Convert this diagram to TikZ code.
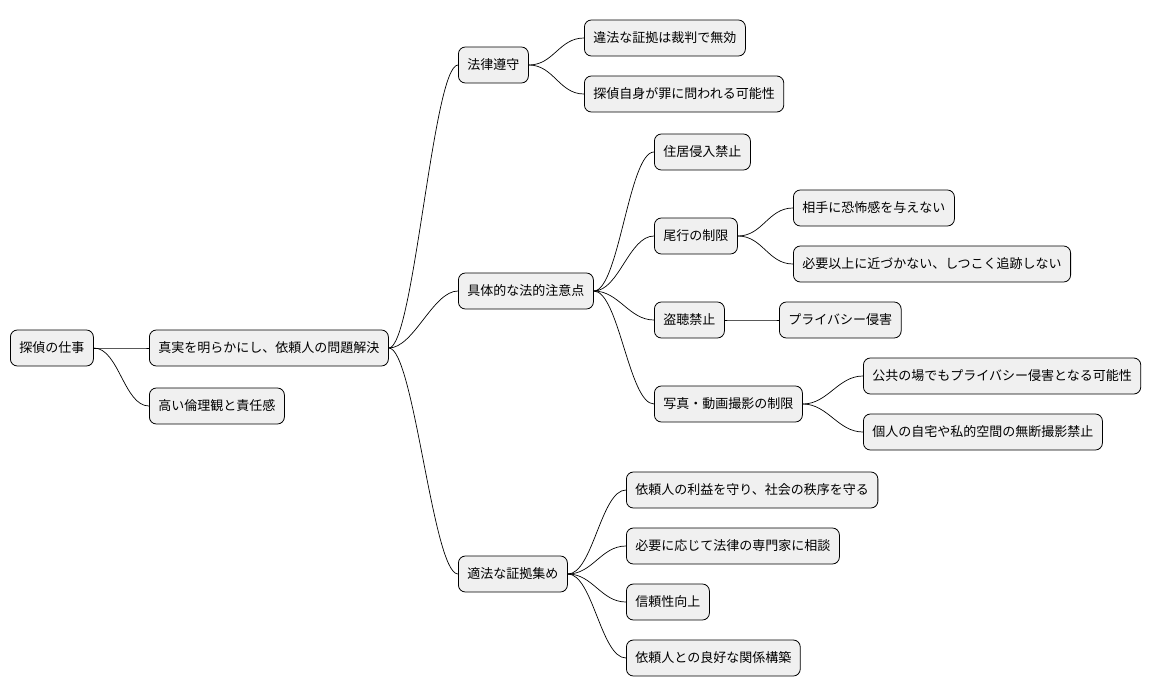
\documentclass[tikz,border=0pt]{standalone}
\usepackage{fontspec}
\setmainfont{Noto Sans CJK JP}
\begin{document}
\begin{tikzpicture}[x=1pt,y=-1pt,
  box/.style={draw=black,line width=0.8pt,fill=black!6,rounded corners=7pt,minimum height=36pt,inner xsep=9pt,anchor=west,font=\fontsize{13}{15}\selectfont},
  link/.style={draw=black,line width=0.7pt}]
\useasboundingbox (0,0) rectangle (1174,696);
\node[box] (r) at (10,348) {探偵の仕事};
\node[box] (a) at (149,348) {真実を明らかにし、依頼人の問題解決};
\node[box] (b) at (149,406) {高い倫理観と責任感};
\node[box] (a1) at (458,65) {法律遵守};
\node[box] (a11) at (584,38) {違法な証拠は裁判で無効};
\node[box] (a12) at (584,94) {探偵自身が罪に問われる可能性};
\node[box] (a2) at (458,291) {具体的な法的注意点};
\node[box] (a21) at (654,152) {住居侵入禁止};
\node[box] (a22) at (654,236) {尾行の制限};
\node[box] (a221) at (793,208) {相手に恐怖感を与えない};
\node[box] (a222) at (793,264) {必要以上に近づかない、しつこく追跡しない};
\node[box] (a23) at (654,320) {盗聴禁止};
\node[box] (a231) at (779,320) {プライバシー侵害};
\node[box] (a24) at (654,404) {写真・動画撮影の制限};
\node[box] (a241) at (863,376) {公共の場でもプライバシー侵害となる可能性};
\node[box] (a242) at (863,432) {個人の自宅や私的空間の無断撮影禁止};
\node[box] (a3) at (458,574) {適法な証拠集め};
\node[box] (a31) at (626,490) {依頼人の利益を守り、社会の秩序を守る};
\node[box] (a32) at (626,546) {必要に応じて法律の専門家に相談};
\node[box] (a33) at (626,602) {信頼性向上};
\node[box] (a34) at (626,658) {依頼人との良好な関係構築};
\foreach \p/\c in {r/a,r/b,a/a1,a/a2,a/a3,a1/a11,a1/a12,a2/a21,a2/a22,a2/a23,a2/a24,a22/a221,a22/a222,a23/a231,a24/a241,a24/a242,a3/a31,a3/a32,a3/a33,a3/a34}
  \draw[link] (\p.east) .. controls +(25,0) and +(-25,0) .. (\c.west);
\end{tikzpicture}
\end{document}
